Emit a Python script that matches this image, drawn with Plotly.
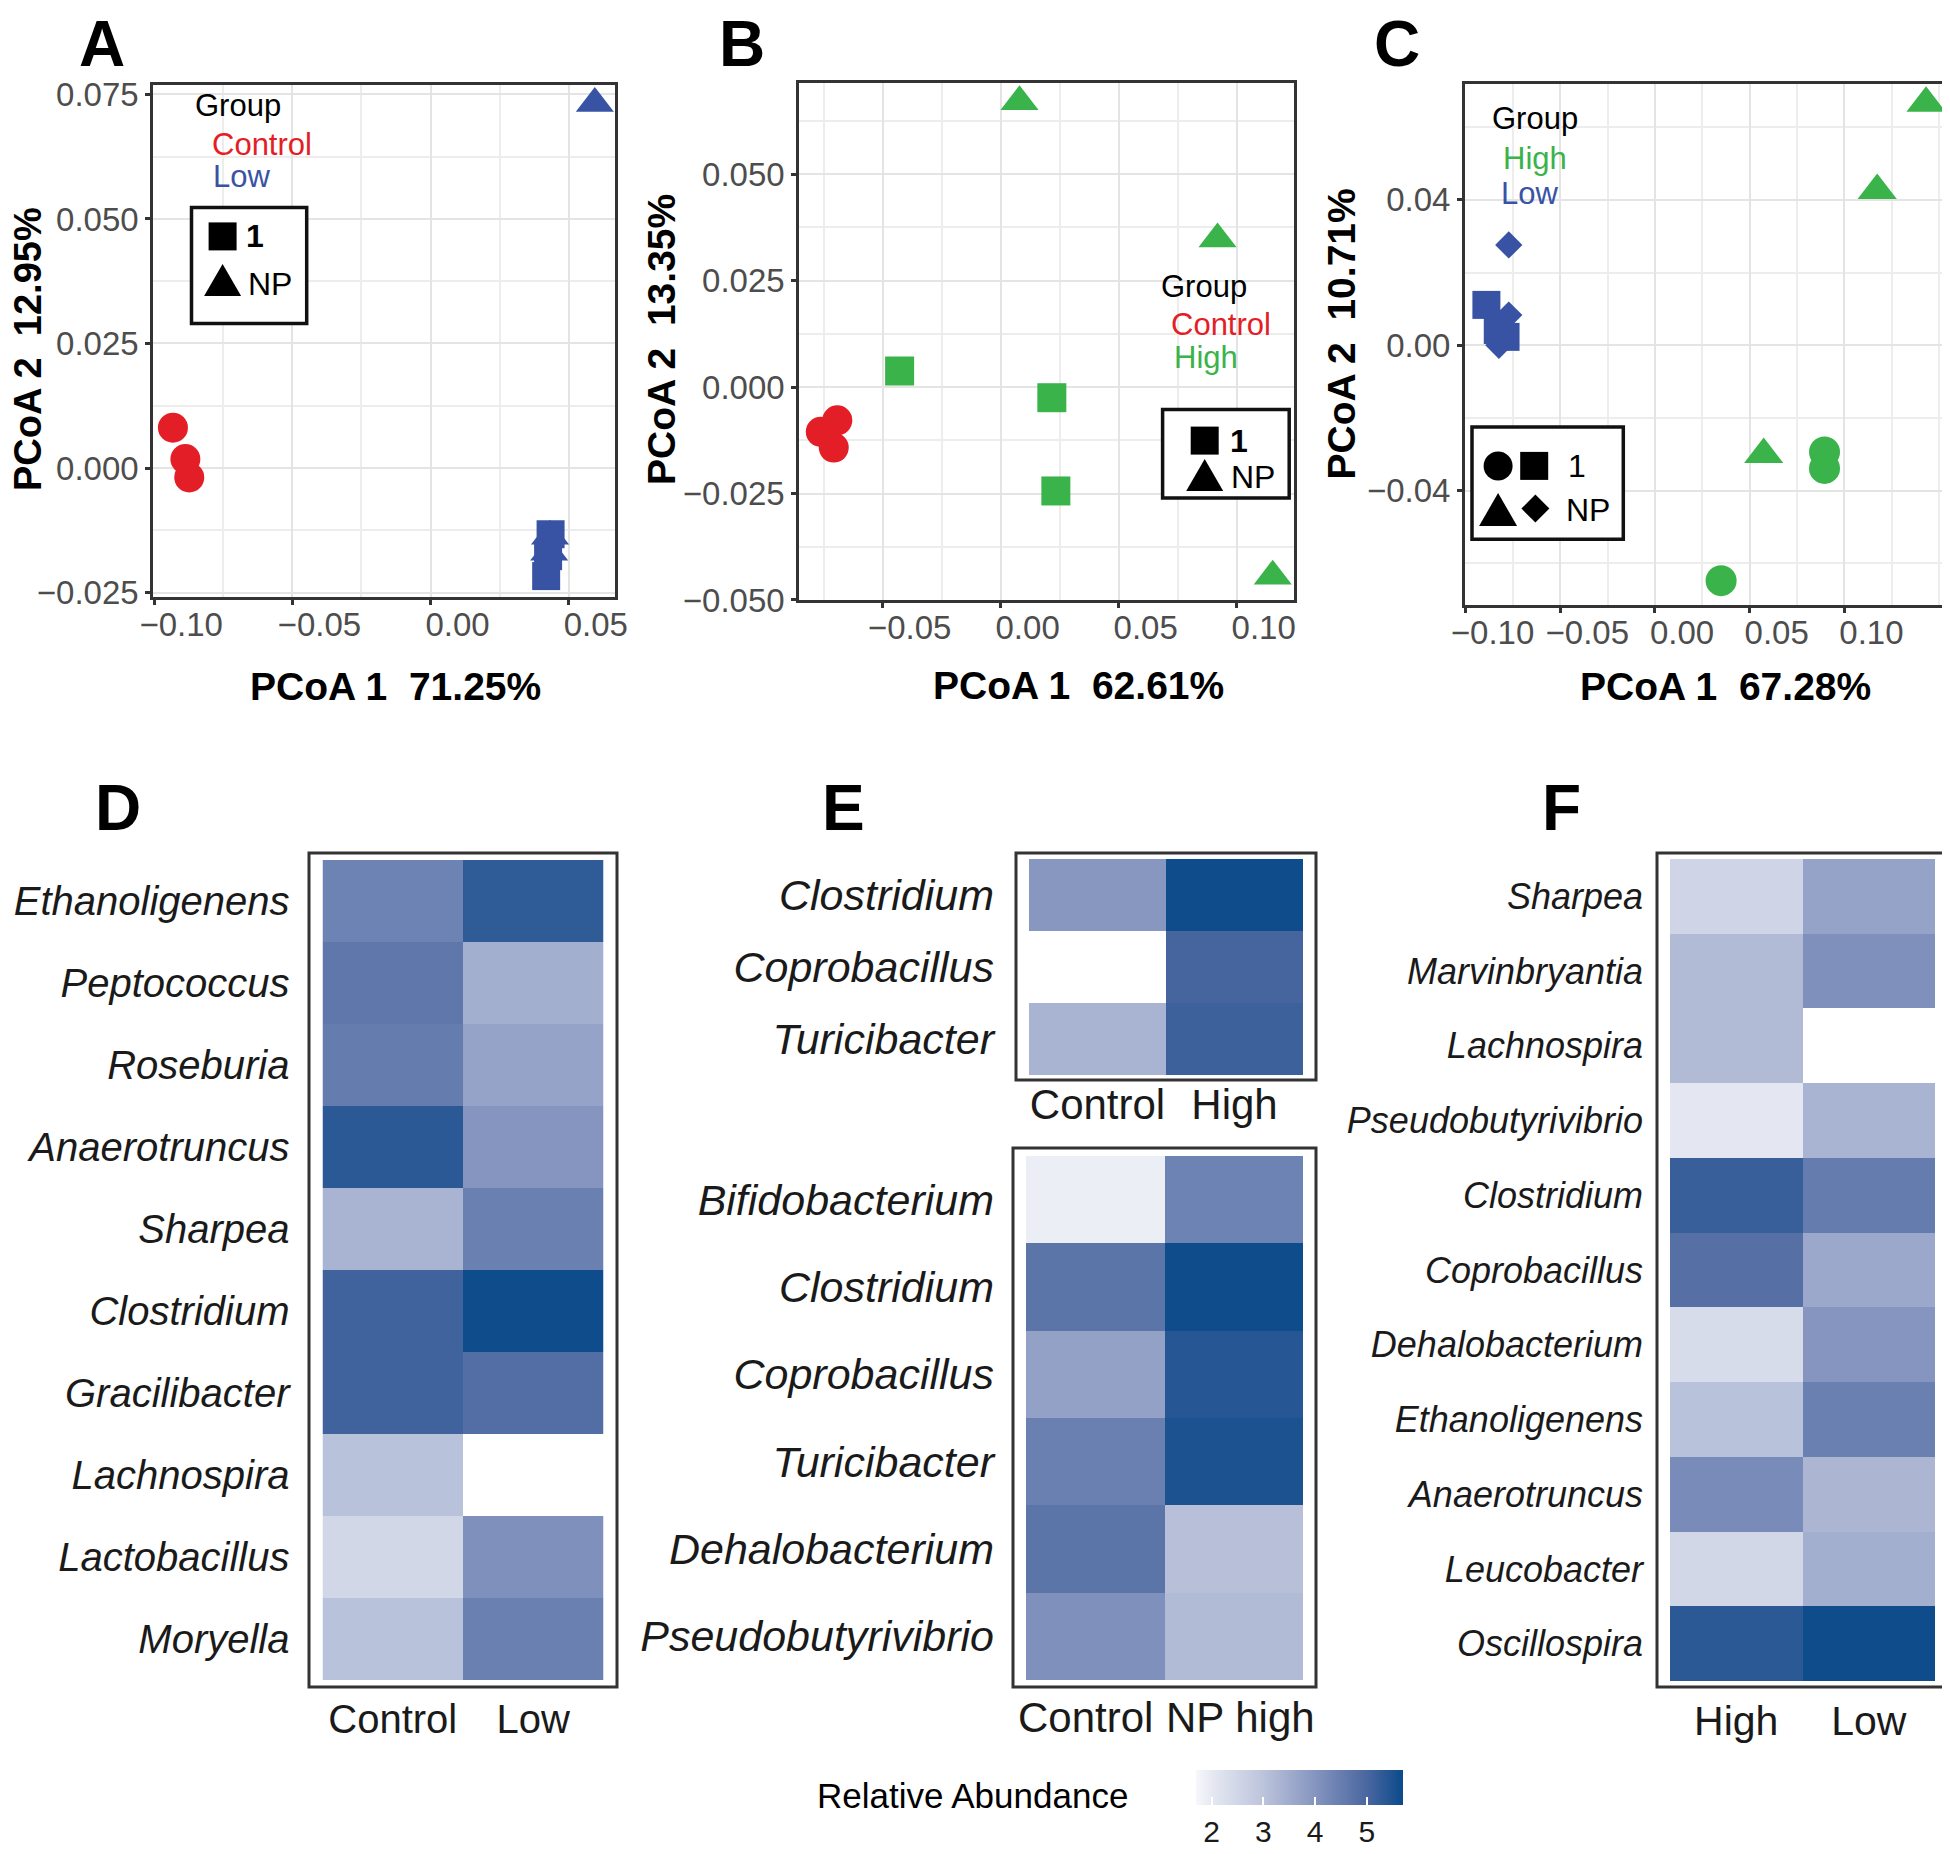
import plotly.graph_objects as go

W, H = 1950, 1854
OFF = 8  # page body margin of the html page
FONT = "Liberation Sans, Arial, Helvetica, sans-serif"
RED, BLUE, GREEN = "#e31e26", "#3953a4", "#3ab34a"

# ---------------- PCoA data ----------------
A_ctrl_x = [-0.0932, -0.0887, -0.0873]
A_ctrl_y = [0.0081, 0.0018, -0.0019]
A_low1_x = [0.0434, 0.0425, 0.0418]
A_low1_y = [-0.0133, -0.0177, -0.0217]
A_lowNP_x = [0.0432, 0.0429, 0.0594]
A_lowNP_y = [-0.0137, -0.0169, 0.0732]

B_ctrl_x = [-0.0762, -0.0692, -0.0707]
B_ctrl_y = [-0.0105, -0.0078, -0.0142]
B_high1_x = [-0.0428, 0.0217, 0.0234]
B_high1_y = [0.0038, -0.0025, -0.0244]
B_highNP_x = [0.0080, 0.0919, 0.1153]
B_highNP_y = [0.0670, 0.0348, -0.0444]

C_high1_x = [0.0895, 0.0895, 0.0349]
C_high1_y = [-0.0294, -0.0339, -0.0648]
C_highNP_x = [0.1431, 0.1173, 0.0574]
C_highNP_y = [0.0666, 0.0426, -0.0301]
C_low1_x = [-0.0890, -0.0830, -0.0789]
C_low1_y = [0.0111, 0.0042, 0.0023]
C_lowNP_x = [-0.0772, -0.0772, -0.0824]
C_lowNP_y = [0.0276, 0.0083, 0.0000]

A_xticks = [-0.10, -0.05, 0.00, 0.05]
A_yticks = [-0.025, 0.000, 0.025, 0.050, 0.075]
B_xticks = [-0.05, 0.00, 0.05, 0.10]
B_yticks = [-0.050, -0.025, 0.000, 0.025, 0.050]
C_xticks = [-0.10, -0.05, 0.00, 0.05, 0.10]
C_yticks = [-0.04, 0.00, 0.04]

A_xtitle, A_ytitle = "PCoA 1\u00a0\u00a071.25%", "PCoA 2\u00a0\u00a012.95%"
B_xtitle, B_ytitle = "PCoA 1\u00a0\u00a062.61%", "PCoA 2\u00a0\u00a013.35%"
C_xtitle, C_ytitle = "PCoA 1\u00a0\u00a067.28%", "PCoA 2\u00a0\u00a010.71%"

# ---------------- Heatmap data ----------------
D_genera = ["Ethanoligenens", "Peptococcus", "Roseburia", "Anaerotruncus", "Sharpea",
            "Clostridium", "Gracilibacter", "Lachnospira", "Lactobacillus", "Moryella"]
D_groups = ["Control", "Low"]
D_control = [4.4, 4.65, 4.55, 5.35, 3.35, 5.1, 5.1, 3.05, 2.5, 3.05]
D_low = [5.3, 3.45, 3.7, 4.0, 4.45, 5.65, 4.85, None, 4.1, 4.45]

E1_genera = ["Clostridium", "Coprobacillus", "Turicibacter"]
E1_groups = ["Control", "High"]
E1_control = [3.95, None, 3.35]
E1_high = [5.65, 5.05, 5.15]

E2_genera = ["Bifidobacterium", "Clostridium", "Coprobacillus", "Turicibacter",
             "Dehalobacterium", "Pseudobutyrivibrio"]
E2_groups = ["Control", "NP high"]
E2_control = [1.9, 4.7, 3.75, 4.45, 4.7, 4.1]
E2_nphigh = [4.4, 5.65, 5.4, 5.5, 3.1, 3.2]

F_genera = ["Sharpea", "Marvinbryantia", "Lachnospira", "Pseudobutyrivibrio", "Clostridium",
            "Coprobacillus", "Dehalobacterium", "Ethanoligenens", "Anaerotruncus",
            "Leucobacter", "Oscillospira"]
F_groups = ["High", "Low"]
F_high = [2.55, 3.2, 3.2, 2.05, 5.2, 4.8, 2.35, 3.05, 4.2, 2.5, 5.35]
F_low = [3.7, 4.1, None, 3.35, 4.55, 3.6, 4.0, 4.45, 3.3, 3.45, 5.65]

CB_min, CB_max = 1.7, 5.7
CB_ticks = [2, 3, 4, 5]


def fx(px):
    return (px - OFF) / W


def fy(py):
    return 1 - (py - OFF) / H


fig = go.Figure()
annotations = []
shapes = []
layout = {}

TICKFONT = dict(family=FONT, size=33, color="#4d4d4d")


def scatter_axes(n, xpx, ypx, xr, yr, xt, yt, xminor, yminor, xfmt, yfmt):
    common = dict(showline=True, mirror=True, linecolor="#333333", linewidth=3,
                  ticks="outside", ticklen=5, tickwidth=2.5, tickcolor="#333333",
                  showgrid=True, gridcolor="#e4e4e4", gridwidth=2, zeroline=False,
                  tickfont=TICKFONT, tickmode="array", fixedrange=True, automargin=False)
    sfx = "" if n == 1 else str(n)
    layout["xaxis" + sfx] = dict(common, domain=[fx(xpx[0]), fx(xpx[1])], range=xr,
                                 tickvals=xt, tickformat=xfmt, anchor="y" + sfx,
                                 ticklabelshift=27, ticklabelstandoff=-9, tickangle=0,
                                 minor=dict(tickmode="linear", tick0=0, dtick=xminor,
                                            showgrid=True, gridcolor="#ededed", gridwidth=1.5))
    layout["yaxis" + sfx] = dict(common, domain=[fy(ypx[1]), fy(ypx[0])], range=yr,
                                 tickvals=yt, tickformat=yfmt, anchor="x" + sfx,
                                 minor=dict(tickmode="linear", tick0=0, dtick=yminor,
                                            showgrid=True, gridcolor="#ededed", gridwidth=1.5))


def pts(n, xs, ys, color, symbol, size):
    sfx = "" if n == 1 else str(n)
    fig.add_trace(go.Scatter(x=xs, y=ys, mode="markers", xaxis="x" + sfx, yaxis="y" + sfx,
                             marker=dict(color=color, symbol=symbol, size=size, line=dict(width=0)),
                             showlegend=False, cliponaxis=True))


# Panel A
scatter_axes(1, (153.3, 615), (85, 597), [-0.1003, 0.0667], [-0.0259, 0.0769],
             A_xticks, A_yticks, 0.025, 0.0125, ".2f", ".3f")
pts(1, A_ctrl_x, A_ctrl_y, RED, "circle", 30)
pts(1, A_lowNP_x, A_lowNP_y, BLUE, "triangle-up", 33)
pts(1, A_low1_x, A_low1_y, BLUE, "square", 28)

# Panel B
scatter_axes(2, (799.3, 1294), (82.6, 600.4), [-0.0853, 0.1243], [-0.0501, 0.0715],
             B_xticks, B_yticks, 0.025, 0.0125, ".2f", ".3f")
pts(2, B_ctrl_x, B_ctrl_y, RED, "circle", 30)
pts(2, B_high1_x, B_high1_y, GREEN, "square", 29)
pts(2, B_highNP_x, B_highNP_y, GREEN, "triangle-up", 33)

# Panel C
scatter_axes(3, (1465, 1946.7), (84, 605), [-0.1003, 0.154], [-0.0715, 0.0719],
             C_xticks, C_yticks, 0.025, 0.02, ".2f", ".2f")
pts(3, C_high1_x, C_high1_y, GREEN, "circle", 31)
pts(3, C_highNP_x, C_highNP_y, GREEN, "triangle-up", 34)
pts(3, C_low1_x, C_low1_y, BLUE, "square", 28)
pts(3, C_lowNP_x, C_lowNP_y, BLUE, "diamond", 21)


def text(x, y, s, size, color="#000000", xanchor="center", bold=False, angle=0, italic=False):
    annotations.append(dict(x=fx(x), y=fy(y), xref="paper", yref="paper", text=s,
                            showarrow=False, xanchor=xanchor, yanchor="middle",
                            textangle=angle, borderpad=0,
                            font=dict(family=FONT, size=size, color=color,
                                      weight="bold" if bold else "normal",
                                      style="italic" if italic else "normal")))


# axis titles
text(395.4, 686, A_xtitle, 39, bold=True)
text(28, 349, A_ytitle, 38, bold=True, angle=-90)
text(1078, 685, B_xtitle, 39, bold=True)
text(661, 340, B_ytitle, 39, bold=True, angle=-90)
text(1725.4, 686, C_xtitle, 39, bold=True)
text(1341.5, 334, C_ytitle, 39, bold=True, angle=-90)

# panel letters
for letter, lx, ly in [("A", 102, 44), ("B", 742, 44), ("C", 1397, 44),
                       ("D", 118, 808), ("E", 843, 808), ("F", 1561, 808)]:
    text(lx, ly, letter, 64, bold=True)

# group legends (text)
text(194, 106, "Group", 31, xanchor="left")
text(211, 145, "Control", 31, RED, xanchor="left")
text(212, 176, "Low", 31, BLUE, xanchor="left")
text(1160, 286, "Group", 31, xanchor="left")
text(1170, 324, "Control", 31, RED, xanchor="left")
text(1173, 357, "High", 31, GREEN, xanchor="left")
text(1491, 118, "Group", 31, xanchor="left")
text(1502, 159, "High", 31, GREEN, xanchor="left")
text(1500, 193, "Low", 31, BLUE, xanchor="left")

# shape legends: boxes, then key symbols drawn as shapes on a page-pixel overlay axis
layout["xaxis8"] = dict(domain=[0, 1], range=[OFF, W + OFF], visible=False, fixedrange=True,
                        anchor="y8", automargin=False)
layout["yaxis8"] = dict(domain=[0, 1], range=[H + OFF, OFF], visible=False, fixedrange=True,
                        anchor="x8", automargin=False)

for (x0, y0, x1, y1) in [(191.5, 207.5, 306.7, 323.6), (1162.6, 409.4, 1289.2, 498),
                         (1472, 427, 1623.3, 539.3)]:
    shapes.append(dict(type="rect", xref="x8", yref="y8", x0=x0, x1=x1, y0=y0, y1=y1,
                       line=dict(color="#111111", width=3.5), fillcolor="white", layer="above"))


def key(kind, cx, cy, s):
    base = dict(xref="x8", yref="y8", fillcolor="black", line=dict(width=0), layer="above")
    h = s / 2
    if kind == "sq":
        shapes.append(dict(base, type="rect", x0=cx - h, x1=cx + h, y0=cy - h, y1=cy + h))
    elif kind == "circ":
        shapes.append(dict(base, type="circle", x0=cx - h, x1=cx + h, y0=cy - h, y1=cy + h))
    elif kind == "tri":
        hh = s * 0.87 / 2
        shapes.append(dict(base, type="path",
                           path=f"M {cx - h},{cy + hh} L {cx + h},{cy + hh} L {cx},{cy - hh} Z"))
    elif kind == "dia":
        shapes.append(dict(base, type="path",
                           path=f"M {cx - h},{cy} L {cx},{cy - h} L {cx + h},{cy} L {cx},{cy + h} Z"))


key("sq", 222.6, 236.4, 28)
key("tri", 222.6, 280, 37)
key("sq", 1204.7, 440.6, 28)
key("tri", 1204.7, 475, 37)
key("circ", 1498.1, 465.9, 29)
key("sq", 1534.2, 465.9, 28)
key("tri", 1498.1, 509.5, 38)
key("dia", 1535.4, 508.6, 28)

text(245.4, 236, "1", 32, xanchor="left", bold=True)
text(246.6, 284, "NP", 32, xanchor="left")
text(1228.5, 441, "1", 32, xanchor="left", bold=True)
text(1229.8, 477, "NP", 32, xanchor="left")
text(1567.4, 466, "1", 32, xanchor="left")
text(1565.3, 510, "NP", 32, xanchor="left")

# ---------------- Heatmaps ----------------
CSCALE = [[0.0, "#f7f8fc"], [0.075, "#e6e9f2"], [0.325, "#bcc4dc"],
          [0.575, "#8595bf"], [0.825, "#4a67a0"], [1.0, "#0b4a8a"]]


def heat(n, genera, groups, cols, inner, outer, rowsize, colsize, rstand, cstand, showx=True):
    z = [list(r) for r in zip(*cols)]
    sfx = str(n)
    fig.add_trace(go.Heatmap(z=z, x=groups, y=genera, coloraxis="coloraxis",
                             xaxis="x" + sfx, yaxis="y" + sfx, xgap=0, ygap=0,
                             hoverongaps=False))
    layout["xaxis" + sfx] = dict(domain=[fx(inner[0]), fx(inner[2])], anchor="y" + sfx,
                                 type="category", showgrid=False, zeroline=False,
                                 showline=False, ticks="", tickangle=0,
                                 showticklabels=showx,
                                 tickfont=dict(family=FONT, size=colsize, color="#1a1a1a"),
                                 ticklabelstandoff=cstand, fixedrange=True, automargin=False)
    layout["yaxis" + sfx] = dict(domain=[fy(inner[3]), fy(inner[1])], anchor="x" + sfx,
                                 type="category", autorange="reversed",
                                 showgrid=False, zeroline=False, showline=False, ticks="",
                                 tickfont=dict(family=FONT, size=rowsize, color="#1a1a1a",
                                               style="italic"),
                                 ticklabelstandoff=rstand, fixedrange=True, automargin=False)
    shapes.append(dict(type="rect", xref="paper", yref="paper", x0=fx(outer[0]), x1=fx(outer[2]),
                       y0=fy(outer[3]), y1=fy(outer[1]), line=dict(color="#333333", width=3),
                       layer="above"))


heat(4, D_genera, D_groups, [D_control, D_low], (322.5, 860, 603.5, 1680),
     (309, 853, 617, 1687), 40, 40, 32, 12)
heat(5, E1_genera, E1_groups, [E1_control, E1_high], (1029, 859, 1303, 1075),
     (1016, 853, 1316, 1080), 43, 42, 34, 1)
heat(6, E2_genera, E2_groups, [E2_control, E2_nphigh], (1026, 1156, 1303, 1680),
     (1013, 1148, 1316, 1687), 43, 42, 31, 12, showx=False)
heat(7, F_genera, F_groups, [F_high, F_low], (1670, 859, 1935, 1681),
     (1657, 853, 1947, 1687), 36, 41, 26, 12)

# the two column names of the lower E heatmap sit close together, as in the original
annotations.append(dict(x=fx(1154), y=fy(1717), xref="paper", yref="paper", text=E2_groups[0],
                        showarrow=False, xanchor="right", yanchor="middle", borderpad=0,
                        font=dict(family=FONT, size=42, color="#1a1a1a")))
annotations.append(dict(x=fx(1165), y=fy(1717), xref="paper", yref="paper", text=E2_groups[1],
                        showarrow=False, xanchor="left", yanchor="middle", borderpad=0,
                        font=dict(family=FONT, size=42, color="#1a1a1a")))

text(972, 1795, "Relative Abundance", 35)

layout["coloraxis"] = dict(
    colorscale=CSCALE, cmin=CB_min, cmax=CB_max,
    colorbar=dict(orientation="h", x=fx(1299.5), xanchor="center", y=fy(1770), yanchor="top",
                  len=207, lenmode="pixels", thickness=35, thicknessmode="pixels",
                  xpad=0, ypad=0, outlinewidth=0, tickmode="array", tickvals=CB_ticks,
                  ticks="inside", ticklen=8, tickwidth=2, tickcolor="white",
                  tickfont=dict(family=FONT, size=30, color="#1a1a1a")))

fig.update_layout(width=W, height=H, margin=dict(l=0, r=0, t=0, b=0, autoexpand=False),
                  paper_bgcolor="white", plot_bgcolor="rgba(0,0,0,0)",
                  font=dict(family=FONT), showlegend=False,
                  annotations=annotations, shapes=shapes, **layout)

fig.write_html("out.html")
